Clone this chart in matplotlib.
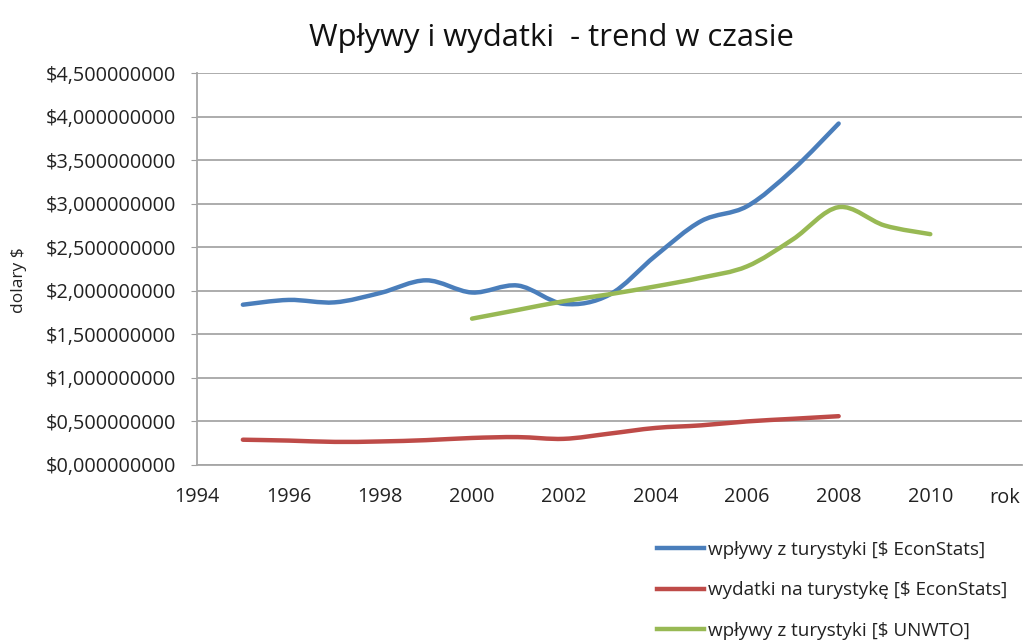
import numpy as np
import matplotlib
matplotlib.use('Agg')
import matplotlib.pyplot as plt
from matplotlib.path import Path
from matplotlib.patches import PathPatch
from matplotlib.lines import Line2D

plt.rcParams['font.family'] = ['Open Sans', 'DejaVu Sans']

# data (billions of USD)
years_econ = [1995, 1996, 1997, 1998, 1999, 2000, 2001, 2002, 2003, 2004, 2005, 2006, 2007, 2008]
inflow_econ = [1.84, 1.895, 1.867, 1.975, 2.12, 1.98, 2.06, 1.85, 1.955, 2.40, 2.80, 2.97, 3.39, 3.92]
spend_econ = [0.29, 0.28, 0.265, 0.27, 0.285, 0.31, 0.32, 0.30, 0.36, 0.425, 0.455, 0.50, 0.53, 0.56]
years_unwto = [2000, 2001, 2002, 2003, 2004, 2005, 2006, 2007, 2008, 2009, 2010]
inflow_unwto = [1.68, 1.78, 1.88, 1.96, 2.05, 2.15, 2.28, 2.59, 2.96, 2.75, 2.65]

labels = ['wpływy z turystyki [$ EconStats]',
          'wydatki na turystykę [$ EconStats]',
          'wpływy z turystyki [$ UNWTO]']
colors = ['#4A7EBB', '#BE4B48', '#98B954']

xticks = list(range(1994, 2011, 2))
yticks = [i * 0.5 for i in range(10)]


def smooth_path(xs, ys):
    # Excel-style smoothed line: Catmull-Rom segments as cubic Bezier curves
    pts = np.column_stack([xs, ys])
    verts = [pts[0]]
    codes = [Path.MOVETO]
    n = len(pts)
    for i in range(n - 1):
        p0 = pts[max(i - 1, 0)]
        p1 = pts[i]
        p2 = pts[i + 1]
        p3 = pts[min(i + 2, n - 1)]
        c1 = p1 + (p2 - p0) / 6
        c2 = p2 - (p3 - p1) / 6
        verts += [c1, c2, p2]
        codes += [Path.CURVE4] * 3
    return Path(verts, codes)


fig = plt.figure(figsize=(10.3, 6.44), dpi=100)
ax = fig.add_axes([0.1913, 0.278, 0.8009, 0.6086])

series = [(years_econ, inflow_econ), (years_econ, spend_econ), (years_unwto, inflow_unwto)]
for (xs, ys), c in zip(series, colors):
    ax.add_patch(PathPatch(smooth_path(xs, ys), facecolor='none', edgecolor=c,
                           lw=3.2, capstyle='round', joinstyle='round', zorder=3))

ax.set_xlim(1994, 2012)
ax.set_ylim(0, 4.5)
ax.set_xticks(xticks)
ax.set_yticks(yticks)
ax.set_yticklabels([('$%.9f' % v).replace('.', ',')[:12] for v in yticks])
ax.tick_params(axis='x', length=0, pad=16, labelsize=14.3, colors='#222222')
ax.tick_params(axis='y', length=4, color='#A0A0A0', pad=11, labelsize=14.3, colors='#222222')
ax.grid(axis='y', color='#A6A6A6', lw=1.3)
ax.set_axisbelow(True)
for s in ['top', 'right']:
    ax.spines[s].set_visible(False)
for s in ['left', 'bottom']:
    ax.spines[s].set_color('#A6A6A6')
    ax.spines[s].set_linewidth(1.3)

fig.text(19 / 1030, 1 - 280 / 644, 'dolary $', fontsize=12.5, color='#222222',
         rotation=90, ha='center', va='center')
fig.text(1005 / 1030, 1 - 498 / 644, 'rok', fontsize=14.3, color='#222222', ha='center', va='center')
fig.text(551 / 1030, 1 - 38 / 644, 'Wpływy i wydatki  - trend w czasie', fontsize=22.3,
         color='#111111', ha='center', va='center')

handles = [Line2D([], [], color=c, lw=3.2) for c in colors]
fig.legend(handles, labels, loc='upper left', bbox_to_anchor=(640 / 1030, 1 - 524 / 644),
           frameon=False, fontsize=13.6, handlelength=2.5, handletextpad=0.2,
           labelspacing=1.18, labelcolor='#222222')

fig.savefig('out.png', dpi=100)
